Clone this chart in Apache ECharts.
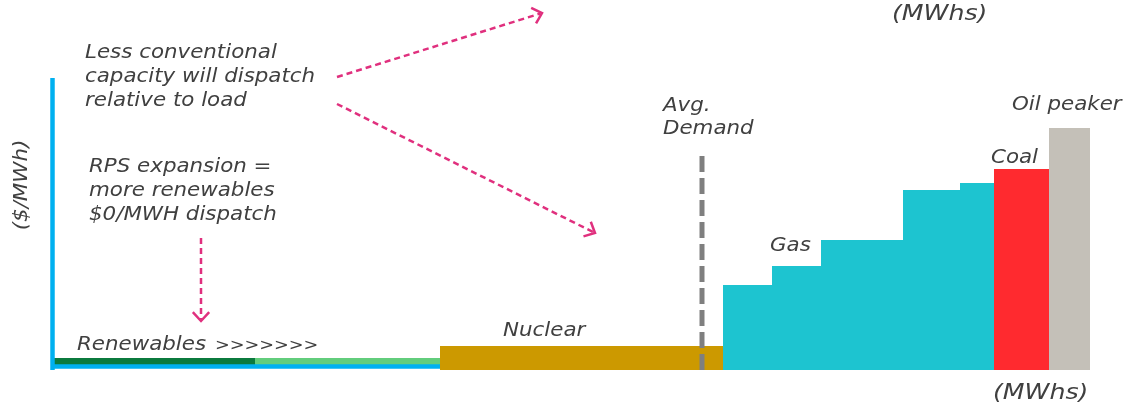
<!DOCTYPE html>
<html><head><meta charset="utf-8">
<script src="https://cdn.jsdelivr.net/npm/echarts@6/dist/echarts.min.js"></script>
<style>html,body{margin:0;padding:0;background:#fff}#c{width:1134px;height:412px}</style>
</head><body><div id="c"></div>
<script>
// ---- data (supply stack: capacity blocks in dispatch order) ----
const blockNames = ['Renewables (existing)', 'Renewables (RPS)', 'Nuclear', 'Gas 1', 'Gas 2', 'Gas 3', 'Gas 4', 'Gas 5', 'Coal', 'Oil peaker'];
const capacity = [20.3, 18.5, 28.3, 4.9, 4.9, 8.2, 5.7, 3.4, 5.5, 4.1];   // MWh (relative)
const price = [2, 2, 5, 20.25, 25, 31.5, 44, 45.75, 49.25, 59.5];          // $/MWh (relative)
const avgDemand = 65;
// ---- styles ----
const blockColors = ['#0B7A3E', '#62CD7C', '#CC9900', '#1DC4D0', '#1DC4D0', '#1DC4D0', '#1DC4D0', '#1DC4D0', '#FF2A2F', '#C4C0B8'];
const textColor = '#404040';
const pink = '#E0307E';
const F = (s) => 'italic ' + s + 'px "DejaVu Sans", Verdana, sans-serif';

let acc = 0;
const items = blockNames.map((n, i) => { const it = [acc, acc + capacity[i], price[i], n, i]; acc += capacity[i]; return it; });
const renewItems = items.slice(0, 2);
const convItems = items.slice(2);

function renderRenew(params, api) {
  const p0 = api.coord([api.value(0), api.value(2)]);
  const p1 = api.coord([api.value(1), 0]);
  return { type: 'rect', shape: { x: p0[0], y: p0[1], width: p1[0] - p0[0], height: p1[1] - p0[1] },
    style: { fill: blockColors[api.value(4)] } };
}
function renderConv(params, api) {
  const p0 = api.coord([api.value(0), api.value(2)]);
  const p1 = api.coord([api.value(1), 0]);
  const bottom = params.coordSys.y + params.coordSys.height;
  return { type: 'rect', shape: { x: p0[0], y: p0[1], width: p1[0] - p0[0], height: bottom - p0[1] },
    style: { fill: blockColors[api.value(4)] } };
}

function arrow(x0, y0, x1, y1) {
  const a = Math.atan2(y1 - y0, x1 - x0), L = 12, s = 0.75;
  const h1 = [x1 - L * Math.cos(a - s), y1 - L * Math.sin(a - s)];
  const h2 = [x1 - L * Math.cos(a + s), y1 - L * Math.sin(a + s)];
  return [
    { type: 'polyline', shape: { points: [[x0, y0], [x1 - 2 * Math.cos(a), y1 - 2 * Math.sin(a)]] },
      style: { stroke: pink, lineWidth: 2.5, lineDash: [6, 4], fill: null } },
    { type: 'polyline', shape: { points: [h1, [x1, y1], h2] },
      style: { stroke: pink, lineWidth: 2.5, fill: null } }
  ];
}
function txt(text, x, y, size, sx, extra) {
  return { type: 'text', x: x, y: y, z: 10, scaleX: sx,
    style: Object.assign({ text: text, font: F(size), fill: textColor, textAlign: 'left', textVerticalAlign: 'middle' }, (extra || {})) };
}
const SX = 1.125;

const chart = echarts.init(document.getElementById('c'), null, { renderer: 'canvas' });
chart.setOption({
  animation: false,
  backgroundColor: '#ffffff',
  grid: { left: 52, right: 44, top: 78, bottom: 42, containLabel: false },
  xAxis: { type: 'value', min: 0, max: 103.8, z: 1,
    axisLine: { show: true, onZero: true, lineStyle: { color: '#00B0F0', width: 4.5, cap: 'butt' } },
    axisTick: { show: false }, axisLabel: { show: false }, splitLine: { show: false } },
  yAxis: { type: 'value', min: -1, max: 72, z: 1,
    axisLine: { show: true, onZero: true, lineStyle: { color: '#00B0F0', width: 4.5, cap: 'butt' } },
    axisTick: { show: false }, axisLabel: { show: false }, splitLine: { show: false } },
  series: [
    { type: 'custom', name: 'Renewables', z: 0, renderItem: renderRenew, encode: { x: [0, 1], y: 2 }, data: renewItems, silent: true },
    { type: 'custom', name: 'Conventional', z: 2, renderItem: renderConv, encode: { x: [0, 1], y: 2 }, data: convItems, silent: true },
    { type: 'line', name: 'Avg. Demand', z: 5, symbol: 'none', silent: true,
      lineStyle: { color: '#7F7F7F', width: 5, type: [16, 6] },
      data: [[avgDemand, -1], [avgDemand, 54]] }
  ],
  graphic: [].concat(
    arrow(337, 77, 542, 13),
    arrow(337, 104, 595, 233),
    arrow(201, 238, 201, 321),
    [
      txt('Less conventional\ncapacity will dispatch\nrelative to load', 85, 77, 19, SX, { lineHeight: 24 }),
      txt('RPS expansion =\nmore renewables\n$0/MWH dispatch', 89, 191, 19, SX, { lineHeight: 24 }),
      { type: 'text', x: 22, y: 185, rotation: Math.PI / 2, z: 10, scaleX: SX,
        style: { text: '($/MWh)', font: F(19), fill: textColor, textAlign: 'center', textVerticalAlign: 'middle' } },
      txt('Renewables', 77, 345, 19, SX),
      txt('>>>>>>>', 215, 346, 16, 1.1),
      txt('Nuclear', 503, 331, 19, SX),
      txt('Avg.\nDemand', 663, 118, 19, SX, { lineHeight: 23 }),
      txt('Gas', 770, 246, 19, SX),
      txt('Coal', 991, 158, 19, SX),
      txt('Oil peaker', 1012, 105, 19, SX),
      txt('(MWhs)', 993, 394, 21, 1.2),
      txt('(MWhs)', 892, 15, 21, 1.2)
    ]
  )
});
</script></body></html>
